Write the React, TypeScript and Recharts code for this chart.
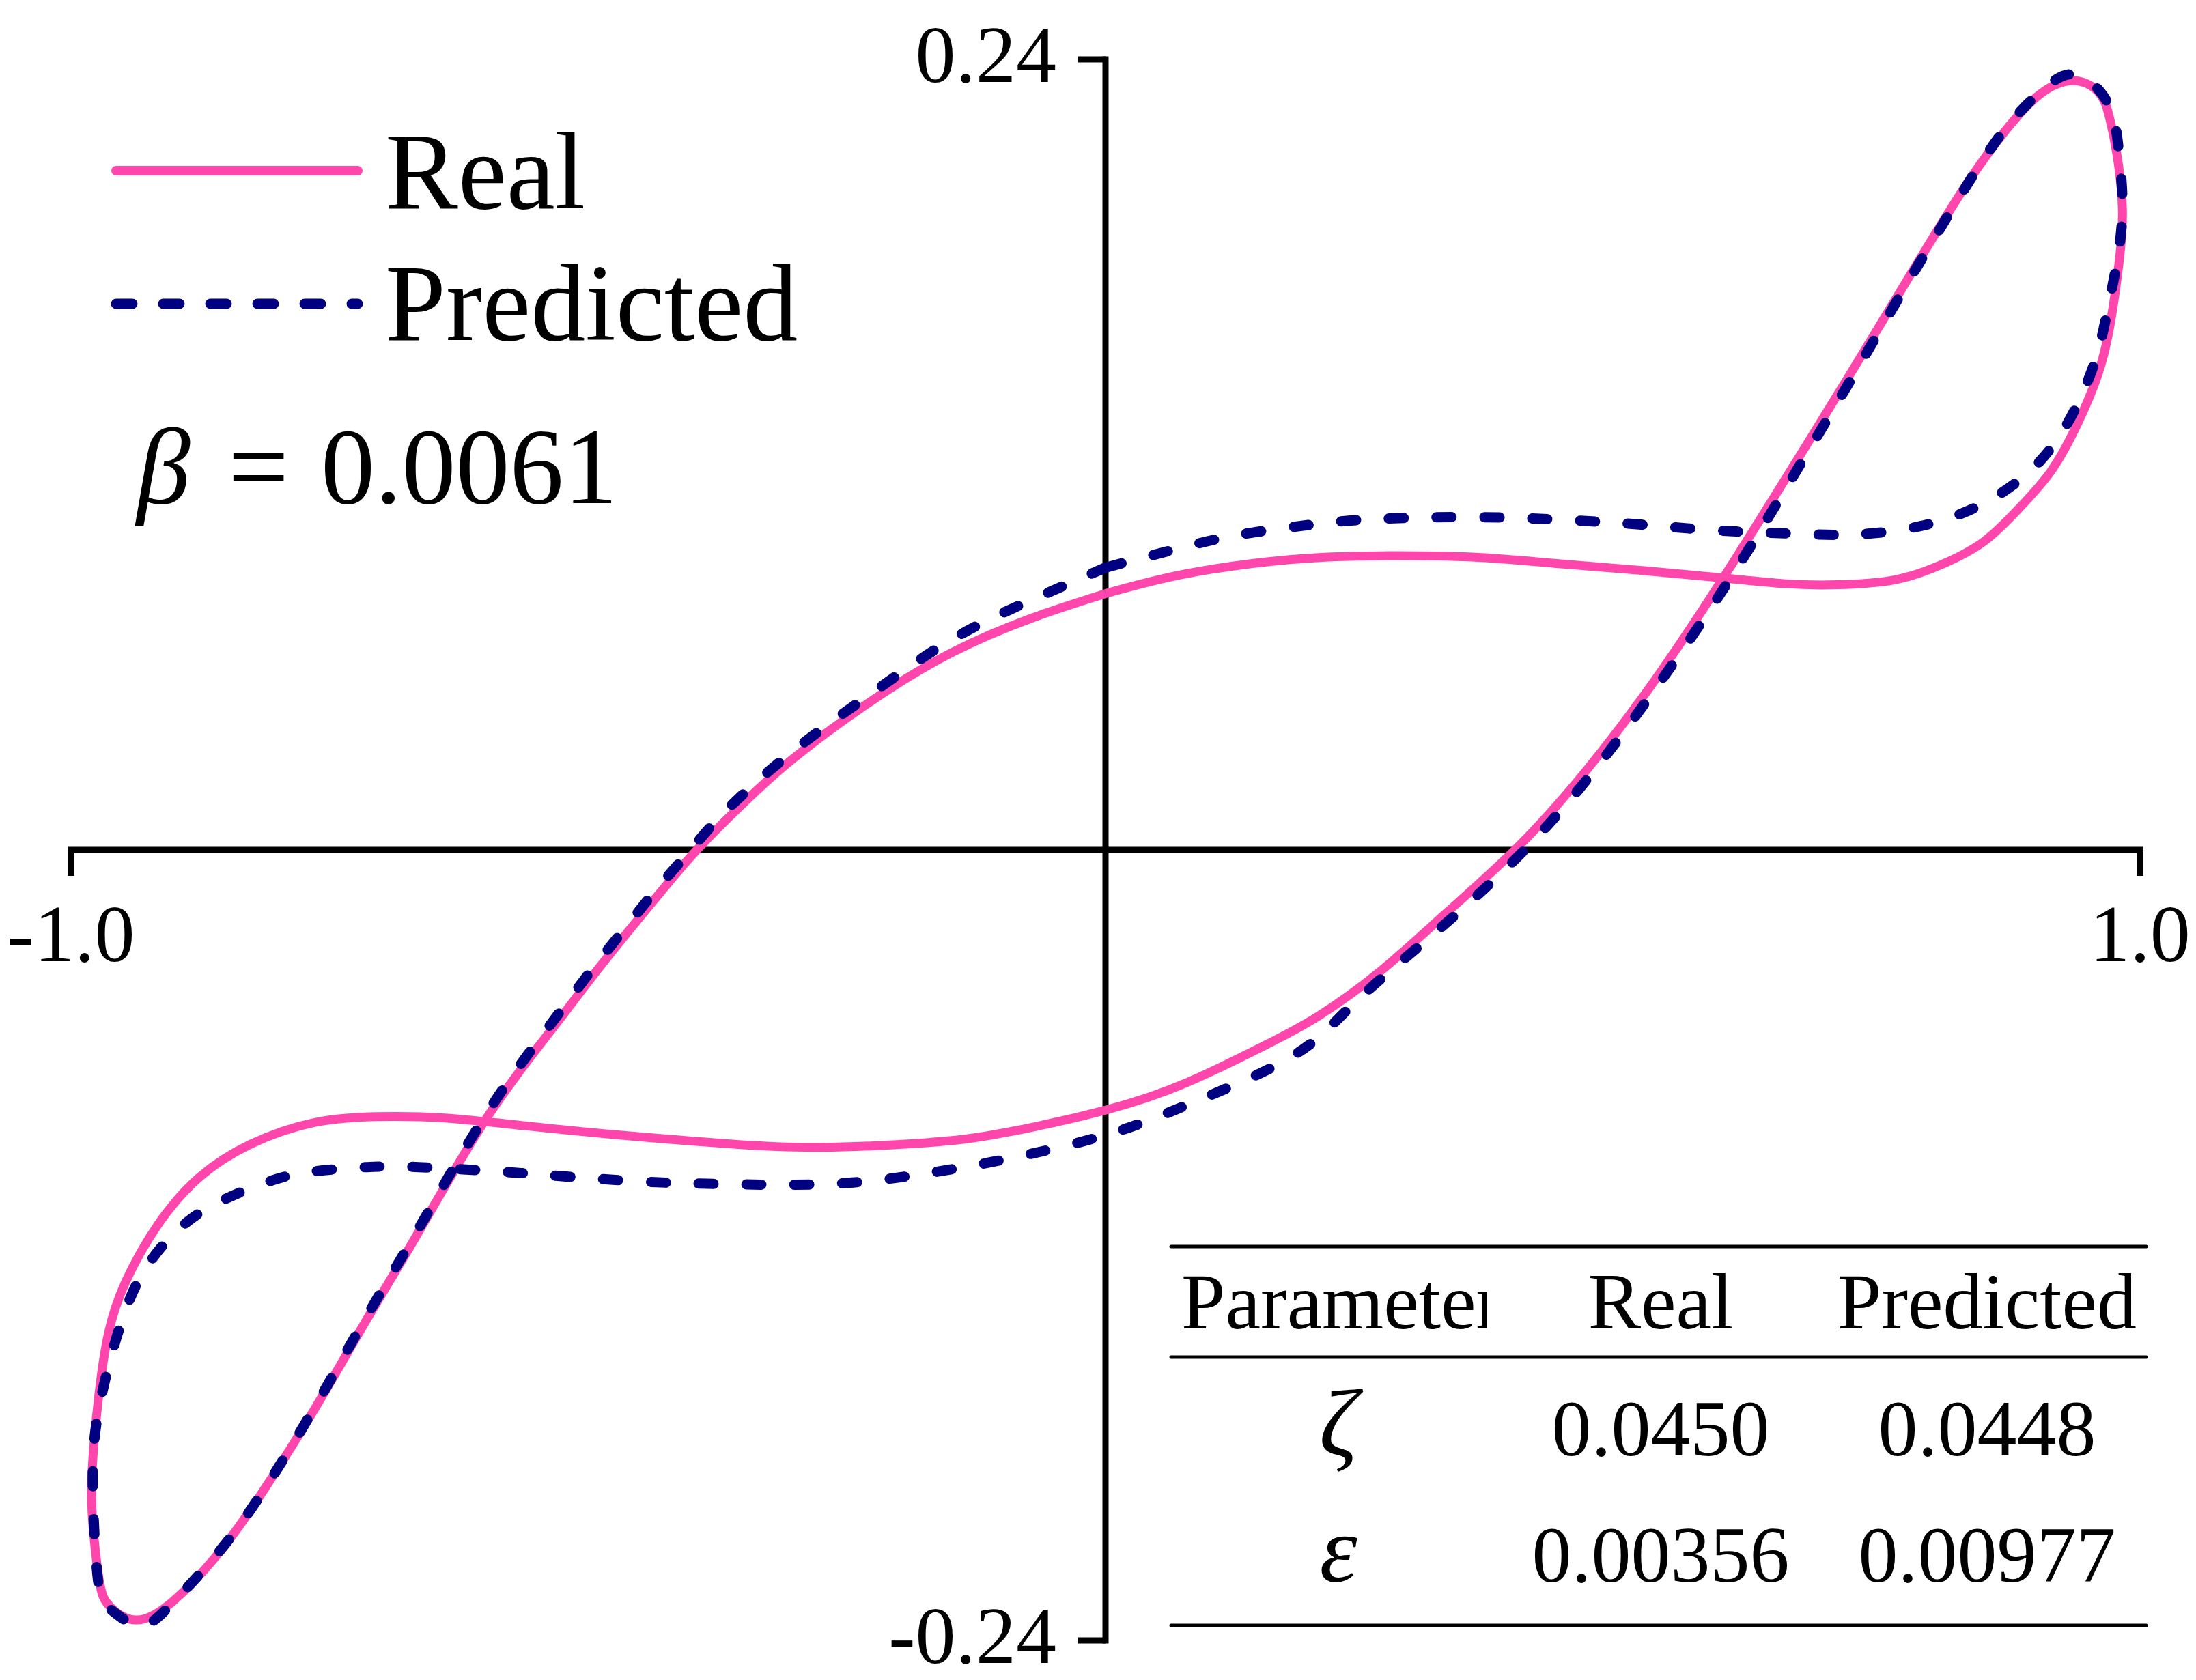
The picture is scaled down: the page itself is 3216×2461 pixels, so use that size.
import { LineChart, Line, XAxis, YAxis, ReferenceLine, Legend } from "recharts";

const W = 3216;
const H = 2461;
const MARGIN = { top: 87, right: 82, bottom: 58, left: 104 };
const FONT = "'Liberation Serif', 'Times New Roman', serif";
const PINK = "#ff46ac";
const NAVY = "#000080";

// axis set-up
const xDomain = [-1, 1];
const yDomain = [-0.24, 0.24];
const xTicks = [-1, 1];
const xTickLabels = ["-1.0", "1.0"];
const yTicks = [-0.24, 0.24];
const yTickLabels = ["-0.24", "0.24"];

// closed hysteresis loops (x, y in data units)
const realX = [
  0, -0.072, -0.148, -0.224, -0.3, -0.35, -0.395, -0.43, -0.462, -0.5, -0.537, -0.598, -0.664, -0.714,
  -0.765, -0.815, -0.856, -0.901, -0.937, -0.962, -0.972, -0.978, -0.98, -0.974, -0.964, -0.947, -0.916,
  -0.876, -0.826, -0.765, -0.704, -0.639, -0.563, -0.462, -0.361, -0.276, -0.173, -0.098, 0, 0.079, 0.155,
  0.206, 0.265, 0.33, 0.399, 0.465, 0.531, 0.596, 0.657, 0.718, 0.773, 0.828, 0.869, 0.904, 0.937, 0.96,
  0.97, 0.978, 0.983, 0.98, 0.972, 0.96, 0.939, 0.914, 0.884, 0.849, 0.808, 0.763, 0.707, 0.657, 0.596,
  0.516, 0.434, 0.354, 0.265, 0.18, 0.079, 0,
];
const realY = [
  0.0778, 0.0703, 0.06, 0.0457, 0.0282, 0.0142, 0, -0.0128, -0.025, -0.04, -0.0552, -0.0813, -0.116,
  -0.1425, -0.17, -0.195, -0.213, -0.228, -0.2338, -0.2298, -0.223, -0.208, -0.1916, -0.168, -0.147,
  -0.131, -0.1138, -0.0994, -0.0893, -0.0828, -0.081, -0.0814, -0.0837, -0.0868, -0.0893, -0.0903,
  -0.0889, -0.0859, -0.079, -0.0706, -0.0592, -0.0504, -0.037, -0.019, 0.001, 0.0242, 0.0515, 0.082,
  0.1125, 0.1435, 0.172, 0.2, 0.218, 0.2296, 0.2335, 0.23, 0.223, 0.2105, 0.1945, 0.179, 0.161, 0.145,
  0.129, 0.115, 0.104, 0.0936, 0.0866, 0.082, 0.0805, 0.0808, 0.0826, 0.0849, 0.087, 0.0889, 0.0893,
  0.0882, 0.0839, 0.0778,
];

const predX = [
  0, -0.072, -0.148, -0.224, -0.3, -0.365, -0.401, -0.43, -0.462, -0.5, -0.537, -0.598, -0.664, -0.714,
  -0.765, -0.815, -0.858, -0.903, -0.934, -0.962, -0.974, -0.979, -0.972, -0.952, -0.927, -0.891, -0.851,
  -0.805, -0.765, -0.714, -0.664, -0.588, -0.537, -0.447, -0.361, -0.259, -0.173, -0.098, 0, 0.079, 0.155,
  0.206, 0.251, 0.33, 0.405, 0.47, 0.535, 0.6, 0.66, 0.72, 0.775, 0.829, 0.87, 0.905, 0.935, 0.962, 0.975,
  0.98, 0.983, 0.978, 0.97, 0.96, 0.945, 0.925, 0.897, 0.859, 0.818, 0.773, 0.718, 0.657, 0.591, 0.516,
  0.455, 0.364, 0.265, 0.206, 0.13, 0.064, 0,
];
const predY = [
  0.0857, 0.0758, 0.064, 0.048, 0.0305, 0.0125, 0, -0.0105, -0.0228, -0.0378, -0.0532, -0.08, -0.115,
  -0.1415, -0.1695, -0.195, -0.2135, -0.229, -0.2355, -0.2305, -0.2215, -0.1916, -0.168, -0.144, -0.1266,
  -0.1138, -0.106, -0.1003, -0.0976, -0.0963, -0.0963, -0.0976, -0.0988, -0.1007, -0.1015, -0.1013,
  -0.0982, -0.094, -0.0866, -0.0774, -0.067, -0.0569, -0.0434, -0.022, 0, 0.0232, 0.0505, 0.0805, 0.111,
  0.1425, 0.172, 0.2, 0.219, 0.2305, 0.2355, 0.23, 0.2215, 0.2105, 0.1945, 0.179, 0.166, 0.152, 0.139,
  0.127, 0.116, 0.107, 0.101, 0.0974, 0.0957, 0.0961, 0.097, 0.0988, 0.1, 0.101, 0.1005, 0.099, 0.0957,
  0.091, 0.0857,
];

// parameter table
const tableHeaders = ["Parameter", "Real", "Predicted"];
const paramSymbols = ["ζ", "ε"];
const paramReal = ["0.0450", "0.00356"];
const paramPred = ["0.0448", "0.00977"];
const betaLabel = "0.0061";
const seriesOrder = ["Real", "Predicted"];

const realData = realX.map((x, i) => ({ x, y: realY[i] }));
const predData = predX.map((x, i) => ({ x, y: predY[i] }));

// tick lengths expressed in data units of the plot
const plotW = W - MARGIN.left - MARGIN.right;
const plotH = H - MARGIN.top - MARGIN.bottom;
const xTickLen = (38 / plotH) * (yDomain[1] - yDomain[0]);
const yTickLen = (40 / plotW) * (xDomain[1] - xDomain[0]);

const seriesStyle: Record<string, { width: number; dash?: string }> = {
  Real: { width: 14 },
  Predicted: { width: 15, dash: "24 45" },
};

function LegendBox({ payload }: any) {
  const rows = [
    { lineY: 250, textY: 305 },
    { lineY: 445, textY: 498 },
  ];
  const items = [...(payload ?? [])].sort(
    (a: any, b: any) => seriesOrder.indexOf(a.value) - seriesOrder.indexOf(b.value)
  );
  return (
    <svg width={1300} height={800} style={{ display: "block", overflow: "visible" }}>
      {items.map((e: any, i: number) => {
        const r = rows[i];
        const st = seriesStyle[e.value] ?? { width: 12 };
        return (
          <g key={e.value}>
            <line
              x1={170}
              x2={524}
              y1={r.lineY}
              y2={r.lineY}
              stroke={e.color}
              strokeWidth={st.width}
              strokeDasharray={st.dash}
              strokeLinecap="round"
            />
            <text x={564} y={r.textY} fontFamily={FONT} fontSize={160} fill="#000">
              {e.value}
            </text>
          </g>
        );
      })}
      <text y={737} fontFamily={FONT} fontSize={158} fill="#000">
        <tspan x={200} fontStyle="italic">β</tspan>
        <tspan x={334}>=</tspan>
        <tspan x={470}>{betaLabel}</tspan>
      </text>
    </svg>
  );
}

const xTickLabel = (text: string) => (props: any) => {
  const vb = props.viewBox;
  return (
    <text x={vb.x} y={vb.y + 163} textAnchor="middle" fontFamily={FONT} fontSize={118} fill="#000">
      {text}
    </text>
  );
};

const yTickLabel = (text: string) => (props: any) => {
  const vb = props.viewBox;
  return (
    <text
      x={vb.x - 32}
      y={vb.y + 33}
      textAnchor="end"
      fontFamily={FONT}
      fontSize={118}
      fill="#000"
    >
      {text}
    </text>
  );
};

function ParamTable() {
  const x0 = 1715;
  const x1 = 3143;
  const colReal = 2432;
  const colPred = 2910;
  const colSym = 1960;
  const rowY = [2132, 2317];
  const txt = { fontFamily: FONT, fontSize: 116, fill: "#000" };
  return (
    <svg
      width={W}
      height={H}
      style={{ position: "absolute", left: 0, top: 0, pointerEvents: "none" }}
    >
      <defs>
        <clipPath id="paramClip">
          <rect x={1700} y={1850} width={478} height={150} />
        </clipPath>
      </defs>
      {[1826, 1988, 2381].map((y) => (
        <line key={y} x1={x0} x2={x1} y1={y} y2={y} stroke="#000" strokeWidth={5} strokeLinecap="round" />
      ))}
      <text x={1730} y={1946} {...txt} clipPath="url(#paramClip)">
        {tableHeaders[0]}
      </text>
      <text x={colReal} y={1946} textAnchor="middle" {...txt}>
        {tableHeaders[1]}
      </text>
      <text x={colPred} y={1946} textAnchor="middle" {...txt}>
        {tableHeaders[2]}
      </text>
      {paramSymbols.map((s, i) => (
        <g key={s}>
          <text
            x={colSym}
            y={rowY[i]}
            textAnchor="middle"
            fontStyle="italic"
            fontFamily={FONT}
            fontSize={140}
            fill="#000"
          >
            {s}
          </text>
          <text x={colReal} y={rowY[i]} textAnchor="middle" {...txt}>
            {paramReal[i]}
          </text>
          <text x={colPred} y={rowY[i]} textAnchor="middle" {...txt}>
            {paramPred[i]}
          </text>
        </g>
      ))}
    </svg>
  );
}

export default function App() {
  return (
    <div
      style={{
        position: "absolute",
        left: 0,
        top: 0,
        width: W,
        height: H,
        background: "#fff",
        fontFamily: FONT,
      }}
    >
      <LineChart width={W} height={H} margin={MARGIN}>
        <XAxis type="number" dataKey="x" domain={xDomain} hide allowDataOverflow />
        <YAxis type="number" dataKey="y" domain={yDomain} hide allowDataOverflow />

        {/* axes crossing at the origin */}
        <ReferenceLine y={0} stroke="#000" strokeWidth={9} strokeLinecap="square" />
        <ReferenceLine x={0} stroke="#000" strokeWidth={9} strokeLinecap="square" />
        {xTicks.map((t, i) => (
          <ReferenceLine
            key={"xt" + t}
            segment={[
              { x: t, y: 0 },
              { x: t, y: -xTickLen },
            ]}
            stroke="#000"
            strokeWidth={10}
            label={xTickLabel(xTickLabels[i])}
          />
        ))}
        {yTicks.map((t, i) => (
          <ReferenceLine
            key={"yt" + t}
            segment={[
              { x: -yTickLen, y: t },
              { x: 0, y: t },
            ]}
            stroke="#000"
            strokeWidth={9}
            label={yTickLabel(yTickLabels[i])}
          />
        ))}

        <Line
          name="Real"
          data={realData}
          dataKey="y"
          type="natural"
          stroke={PINK}
          strokeWidth={13}
          dot={false}
          activeDot={false}
          isAnimationActive={false}
        />
        <Line
          name="Predicted"
          data={predData}
          dataKey="y"
          type="natural"
          stroke={NAVY}
          strokeWidth={15}
          strokeDasharray="22 48"
          strokeLinecap="round"
          dot={false}
          activeDot={false}
          isAnimationActive={false}
        />
        <Legend
          layout="horizontal"
          verticalAlign="middle"
          align="center"
          content={LegendBox}
          wrapperStyle={{ left: 0, top: 0, width: 1300, height: 800 }}
        />
      </LineChart>
      <ParamTable />
    </div>
  );
}
